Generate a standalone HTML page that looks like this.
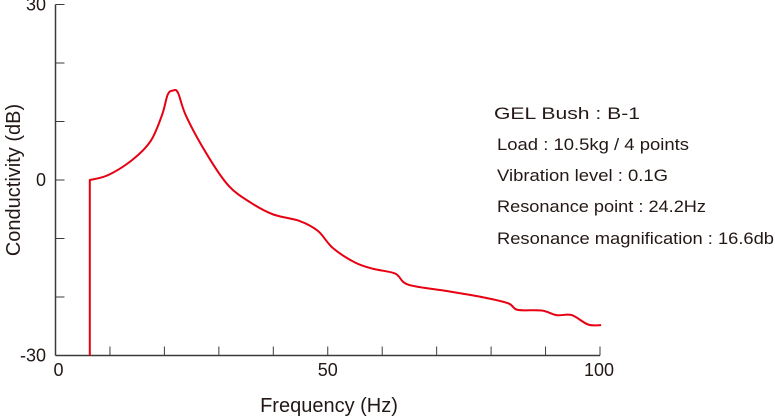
<!DOCTYPE html>
<html><head><meta charset="utf-8"><style>
html,body{margin:0;padding:0;background:#fff;}
svg{display:block;font-family:"Liberation Sans",sans-serif;}
</style></head><body>
<svg id="chart" width="775" height="417" viewBox="0 0 775 417">
<g id="axes"></g>
<g id="series"></g>
<g font-size="17" fill="#231815">
<text x="494" y="119" textLength="146" lengthAdjust="spacingAndGlyphs">GEL Bush : B-1</text>
<text x="497" y="150" textLength="192" lengthAdjust="spacingAndGlyphs">Load : 10.5kg / 4 points</text>
<text x="497" y="181" textLength="171" lengthAdjust="spacingAndGlyphs">Vibration level : 0.1G</text>
<text x="497" y="212" textLength="209" lengthAdjust="spacingAndGlyphs">Resonance point : 24.2Hz</text>
<text x="497" y="244" textLength="277" lengthAdjust="spacingAndGlyphs">Resonance magnification : 16.6db</text>
</g>
<text x="329" y="412" text-anchor="middle" font-size="20" fill="#231815">Frequency (Hz)</text>
<text transform="translate(20,180) rotate(-90)" text-anchor="middle" font-size="20" fill="#231815">Conductivity (dB)</text>
</svg>
<script>
const freqs=[6.3,6.3,9.7,14.2,17.5,19.6,20.6,21.6,22.5,24,27.8,31.8,35.9,40,44.8,48.2,50.9,55,58.4,62.4,64.8,72,78.8,83.2,84.9,89.3,92,94.8,97.8,100.2];
const dbValues=[-30,0,0.85,3.5,6.7,11.2,14.6,15.3,14.9,10.9,4.4,-1.0,-3.9,-5.9,-7.0,-8.7,-11.6,-14.1,-15.2,-16.0,-17.9,-19,-20.1,-21.1,-22.2,-22.3,-23.1,-23.1,-24.7,-24.8];
const xTicks=[0,10,20,30,40,50,60,70,80,90,100];
const xTickLabels=[0,50,100];
const yTicks=[-30,-20,-10,0,10,20,30];
const yTickLabels=[-30,0,30];
const NS="http://www.w3.org/2000/svg";
const X0=55.5,X1=600,Y0=355.5,Y1=4.5;
const xs=f=>X0+(f-0)/(100-0)*(X1-X0);
const ys=v=>Y0-(v+30)/60*(Y0-Y1);
const axes=document.getElementById('axes');
function mk(tag,attrs,parent){const e=document.createElementNS(NS,tag);for(const k in attrs)e.setAttribute(k,attrs[k]);parent.appendChild(e);return e;}
let e=mk('line',{x1:X0,y1:Y1,x2:X0,y2:Y0,stroke:'#3e3a39','stroke-width':1.5},axes);


e=mk('line',{x1:X0,y1:Y0,x2:X1,y2:Y0,stroke:'#3e3a39','stroke-width':1.5},axes);


xTicks.forEach(t=>{const l=mk('line',{x1:xs(t),y1:Y0,x2:xs(t),y2:Y0-9,stroke:'#3e3a39','stroke-width':1},axes);

});
yTicks.forEach(t=>{const l=mk('line',{x1:X0,y1:ys(t),x2:X0+9,y2:ys(t),stroke:'#3e3a39','stroke-width':1},axes);

});
xTickLabels.forEach(t=>{const tx=mk('text',{x:xs(t)+(t===0?3:(t===100?-1:0)),y:376,'text-anchor':'middle','font-size':18,fill:'#231815'},axes);tx.textContent=t;

});
yTickLabels.forEach(t=>{const tx=mk('text',{x:46,y:ys(t)+6,'text-anchor':'end','font-size':18,fill:'#231815'},axes);tx.textContent=t;

});
const ser=document.getElementById('series');
const pts=freqs.map((f,i)=>[xs(f),ys(dbValues[i])]);
let d='M'+pts[0][0].toFixed(1)+','+pts[0][1].toFixed(1)+' L'+pts[1][0].toFixed(1)+','+pts[1][1].toFixed(1);
for(let i=1;i<pts.length-1;i++){
  const p0=pts[Math.max(1,i-1)],p1=pts[i],p2=pts[i+1],p3=pts[Math.min(pts.length-1,i+2)];
  const c1=[p1[0]+(p2[0]-p0[0])/6,p1[1]+(p2[1]-p0[1])/6];
  const c2=[p2[0]-(p3[0]-p1[0])/6,p2[1]-(p3[1]-p1[1])/6];
  d+=' C'+c1[0].toFixed(1)+','+c1[1].toFixed(1)+' '+c2[0].toFixed(1)+','+c2[1].toFixed(1)+' '+p2[0].toFixed(1)+','+p2[1].toFixed(1);
}
const p=mk('path',{d:d,fill:'none',stroke:'#e60012','stroke-width':2,'stroke-linejoin':'round'},ser);


</script>
</body></html>
